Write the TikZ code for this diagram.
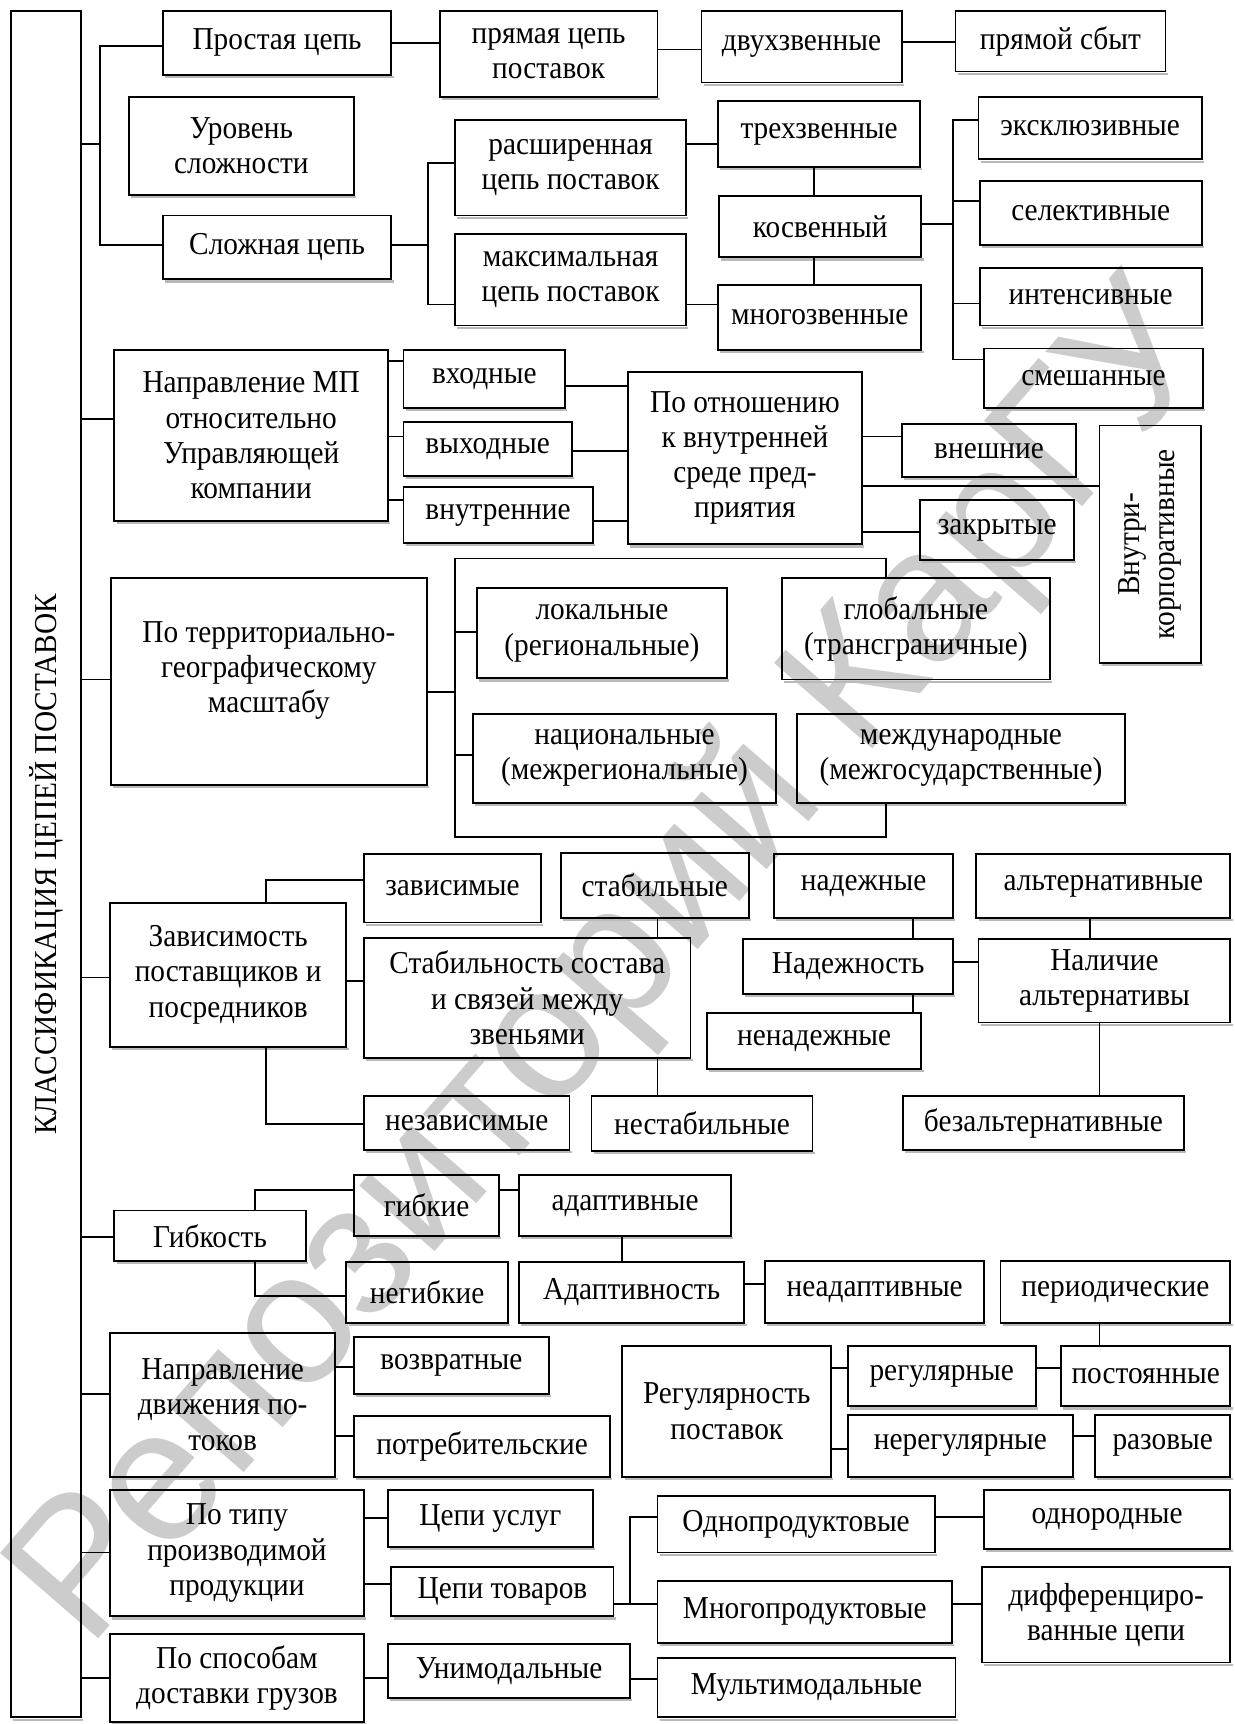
\documentclass[tikz,border=0pt]{standalone}
\usepackage{fontspec}
\setmainfont[FakeStretch=0.92]{Liberation Serif}
\newfontfamily\wmfamily{Liberation Sans}
\newcommand\dfs{\fontsize{14.5pt}{16pt}\selectfont}
\newcommand\wmfnt{\wmfamily\fontsize{86pt}{90pt}\selectfont}
\tikzset{
  bx/.style={draw, line width=0.85pt, inner sep=1pt, outer sep=0pt, align=center, font=\dfs},
  ln/.style={line width=0.85pt},
  shd/.style={line width=1pt, gray!55},
  txt/.style={align=center, font=\dfs, inner sep=0pt}
}
\newcommand\bx[6]{%
  \node[bx, minimum width={(#4-#2)*0.5pt}, minimum height={(#5-#3)*0.5pt}] (#1) at ({(#2+#4)/2},{(#3+#5)/2}) {#6};
  \draw[shd] ([shift={(2,2)}]#1.south west) -- ([shift={(2,2)}]#1.south east);
}
\begin{document}
\begin{tikzpicture}[x=0.5pt,y=-0.5pt]
\useasboundingbox[fill=white] (0,0) rectangle (1123,1568);
% watermark
\node[rotate=49, text=gray!40, font=\wmfnt, inner sep=0pt] (wm) at (560,880) {Репозиторий КарГУ};

% main box
\bx{main}{10}{10}{73.6}{1562}{}
\node[txt, rotate=90] (mainT) at (41.8,786) {КЛАССИФИКАЦИЯ ЦЕПЕЙ ПОСТАВОК};

% group 1
\bx{prost}{148}{10}{356}{68}{Простая цепь}
\bx{prjam}{400}{10}{598}{88}{прямая цепь\\поставок}
\bx{dvuh}{638}{10}{820}{75}{двухзвенные}
\bx{sbyt}{869}{10}{1060}{65}{прямой сбыт}
\bx{urov}{117}{88}{322}{177}{Уровень\\сложности}
\bx{rassh}{414}{109}{624}{196}{расширенная\\цепь поставок}
\bx{treh}{653}{92}{837}{152}{трехзвенные}
\bx{eksk}{890}{88}{1093}{145}{эксклюзивные}
\bx{selek}{891}{165}{1093}{223}{селективные}
\bx{kosv}{654}{178}{838}{234}{косвенный}
\bx{slozh}{148}{196}{356}{254}{Сложная цепь}
\bx{maks}{414}{213}{624}{296}{максимальная\\цепь поставок}
\bx{mnogo}{653}{259}{838}{318}{многозвенные}
\bx{inten}{891}{244}{1093}{296}{интенсивные}
\bx{smesh}{895}{317}{1094}{371}{смешанные}

% group 2
\bx{napr}{104}{318}{353}{474}{Направление МП\\относительно\\Управляющей\\компании}
\bx{vhod}{367}{318}{514}{371}{входные}
\bx{vyhod}{367}{384}{520}{433}{выходные}
\bx{vnutr}{367}{443}{539}{494}{внутренние}
\bx{otn}{571}{338}{784}{495}{По отношению\\к внутренней\\среде пред-\\приятия}
\bx{vnesh}{820}{386}{979}{434}{внешние}
\bx{zakr}{837}{455}{977}{509}{закрытые}
\bx{vnk}{1000}{387}{1092}{603}{}
\node[txt, rotate=90] (vnkT) at (vnk.center) {Внутри-\\корпоративные};

% group 3
\bx{terr}{101}{526}{388}{714}{}
\node[txt] (terrT) at (244.5,610) {По территориально-\\географическому\\масштабу};
\bx{lok}{434}{535}{661}{617}{локальные\\(региональные)}
\bx{glob}{711}{526}{955}{618}{глобальные\\(трансграничные)}
\bx{nac}{430}{649}{706}{730}{национальные\\(межрегиональные)}
\bx{mezh}{725}{649}{1023}{730}{международные\\(межгосударственные)}

% group 4
\bx{zavis}{100}{821}{315}{952}{Зависимость\\поставщиков и\\посредников}
\bx{zav}{331}{777}{492}{839}{зависимые}
\bx{stb}{510}{776}{681}{835}{стабильные}
\bx{nad}{704}{777}{867}{835}{надежные}
\bx{alt}{888}{777}{1119}{835}{альтернативные}
\bx{stab}{331}{853}{628}{962}{Стабильность состава\\и связей между\\звеньями}
\bx{nadezh}{676}{854}{867}{904}{Надежность}
\bx{nalich}{890}{854}{1119}{930}{Наличие\\альтернативы}
\bx{nenad}{643}{921}{838}{972}{ненадежные}
\bx{nezav}{331}{997}{518}{1046}{независимые}
\bx{nestab}{538}{997}{739}{1047}{нестабильные}
\bx{bezalt}{821}{997}{1077}{1046}{безальтернативные}

% group 5
\bx{gibk}{104}{1101}{278}{1147}{Гибкость}
\bx{gibkie}{322}{1069}{454}{1124}{гибкие}
\bx{adapt}{472}{1069}{665}{1124}{адаптивные}
\bx{negib}{315}{1148}{462}{1203}{негибкие}
\bx{adaptn}{472}{1148}{677}{1203}{Адаптивность}
\bx{neadapt}{696}{1147}{895}{1203}{неадаптивные}
\bx{period}{910}{1147}{1119}{1203}{периодические}

% group 6
\bx{naprD}{100}{1212}{305}{1343}{Направление\\движения по-\\токов}
\bx{vozvr}{322}{1216}{499}{1268}{возвратные}
\bx{potreb}{322}{1288}{555}{1343}{потребительские}
\bx{regul}{566}{1224}{756}{1343}{Регулярность\\поставок}
\bx{regular}{771}{1224}{942}{1279}{регулярные}
\bx{postoy}{965}{1224}{1119}{1279}{постоянные}
\bx{nereg}{771}{1287}{976}{1343}{нерегулярные}
\bx{razov}{996}{1287}{1119}{1343}{разовые}

% group 7
\bx{potipu}{100}{1355}{331}{1470}{По типу\\производимой\\продукции}
\bx{uslug}{353}{1355}{539}{1407}{Цепи услуг}
\bx{tovar}{356}{1425}{558}{1470}{Цепи товаров}
\bx{odnopr}{598}{1361}{850}{1412}{Однопродуктовые}
\bx{odnorod}{895}{1355}{1119}{1409}{однородные}
\bx{mnogopr}{598}{1438}{866}{1494}{Многопродуктовые}
\bx{diff}{893}{1425}{1119}{1512}{дифференциро-\\ванные цепи}

% group 8
\bx{sposob}{100}{1486}{331}{1566}{По способам\\доставки грузов}
\bx{unimod}{353}{1495}{573}{1544}{Унимодальные}
\bx{multi}{598}{1508}{869}{1562}{Мультимодальные}

% ---- connectors ----
\draw[ln] (main.east |- 0,131) -- (91,131);
\draw[ln] (prost.west |- 0,42) -- (91,42) -- (91,223) -- (slozh.west |- 0,223);
\draw[ln] (prost.east |- 0,39) -- (prjam.west |- 0,39);
\draw[ln] (prjam.east |- 0,45) -- (dvuh.west |- 0,45);
\draw[ln] (dvuh.east |- 0,38) -- (sbyt.west |- 0,38);
\draw[ln] (slozh.east |- 0,223) -- (389,223);
\draw[ln] (rassh.west |- 0,148) -- (389,148) -- (389,277) -- (maks.west |- 0,277);
\draw[ln] (rassh.east |- 0,131) -- (treh.west |- 0,131);
\draw[ln] (maks.east |- 0,277) -- (mnogo.west |- 0,277);
\draw[ln] (740,0 |- treh.south) -- (740,0 |- kosv.north);
\draw[ln] (740,0 |- kosv.south) -- (740,0 |- mnogo.north);
\draw[ln] (kosv.east |- 0,204) -- (867,204);
\draw[ln] (eksk.west |- 0,109) -- (867,109) -- (867,327) -- (smesh.west |- 0,327);
\draw[ln] (867,183) -- (selek.west |- 0,183);
\draw[ln] (867,276) -- (inten.west |- 0,276);

\draw[ln] (main.east |- 0,381) -- (napr.west |- 0,381);
\draw[ln] (napr.east |- 0,328) -- (vhod.west |- 0,328);
\draw[ln] (napr.east |- 0,397) -- (vyhod.west |- 0,397);
\draw[ln] (napr.east |- 0,455) -- (vnutr.west |- 0,455);
\draw[ln] (vhod.east |- 0,351) -- (otn.west |- 0,351);
\draw[ln] (vyhod.east |- 0,410) -- (otn.west |- 0,410);
\draw[ln] (vnutr.east |- 0,474) -- (otn.west |- 0,474);
\draw[ln] (otn.east |- 0,397) -- (vnesh.west |- 0,397);
\draw[ln] (otn.east |- 0,442) -- (vnk.west |- 0,442);
\draw[ln] (otn.east |- 0,484) -- (zakr.west |- 0,484);

\draw[ln] (main.east |- 0,618) -- (terr.west |- 0,618);
\draw[ln] (terr.east |- 0,629) -- (413.5,629);
\draw[ln] (806,0 |- glob.north) -- (806,508) -- (413.5,508) -- (413.5,761) -- (806,761) -- (806,0 |- mezh.south);
\draw[ln] (413.5,575) -- (lok.west |- 0,575);
\draw[ln] (413.5,687) -- (nac.west |- 0,687);

\draw[ln] (main.east |- 0,889) -- (zavis.west |- 0,889);
\draw[ln] (242,0 |- zavis.north) -- (242,800) -- (zav.west |- 0,800);
\draw[ln] (242,0 |- zavis.south) -- (242,1022) -- (nezav.west |- 0,1022);
\draw[ln] (zavis.east |- 0,892) -- (stab.west |- 0,892);
\draw[ln] (598,0 |- stb.south) -- (598,0 |- stab.north);
\draw[ln] (598,0 |- stab.south) -- (598,0 |- nestab.north);
\draw[ln] (830,0 |- nad.south) -- (830,0 |- nadezh.north);
\draw[ln] (830,0 |- nadezh.south) -- (830,0 |- nenad.north);
\draw[ln] (nadezh.east |- 0,875) -- (nalich.west |- 0,875);
\draw[ln] (991,0 |- alt.south) -- (991,0 |- nalich.north);
\draw[ln] (1000,0 |- nalich.south) -- (1000,0 |- bezalt.north);

\draw[ln] (main.east |- 0,1125) -- (gibk.west |- 0,1125);
\draw[ln] (232,0 |- gibk.north) -- (232,1082) -- (gibkie.west |- 0,1082);
\draw[ln] (232,0 |- gibk.south) -- (232,1179) -- (negib.west |- 0,1179);
\draw[ln] (gibkie.east |- 0,1082) -- (adapt.west |- 0,1082);
\draw[ln] (566,0 |- adapt.south) -- (566,0 |- adaptn.north);
\draw[ln] (adaptn.east |- 0,1168) -- (neadapt.west |- 0,1168);
\draw[ln] (1000,0 |- period.south) -- (1000,0 |- postoy.north);

\draw[ln] (main.east |- 0,1268) -- (naprD.west |- 0,1268);
\draw[ln] (naprD.east |- 0,1243) -- (vozvr.west |- 0,1243);
\draw[ln] (naprD.east |- 0,1306) -- (potreb.west |- 0,1306);
\draw[ln] (regul.east |- 0,1244) -- (regular.west |- 0,1244);
\draw[ln] (regul.east |- 0,1318) -- (nereg.west |- 0,1318);
\draw[ln] (regular.east |- 0,1244) -- (postoy.west |- 0,1244);
\draw[ln] (nereg.east |- 0,1306) -- (razov.west |- 0,1306);

\draw[ln] (main.east |- 0,1412) -- (potipu.west |- 0,1412);
\draw[ln] (potipu.east |- 0,1381) -- (uslug.west |- 0,1381);
\draw[ln] (potipu.east |- 0,1441) -- (tovar.west |- 0,1441);
\draw[ln] (tovar.east |- 0,1459) -- (573,1459);
\draw[ln] (odnopr.west |- 0,1380) -- (573,1380) -- (573,1459) -- (mnogopr.west |- 0,1459);
\draw[ln] (odnopr.east |- 0,1380) -- (odnorod.west |- 0,1380);
\draw[ln] (mnogopr.east |- 0,1459) -- (diff.west |- 0,1459);

\draw[ln] (main.east |- 0,1526) -- (sposob.west |- 0,1526);
\draw[ln] (sposob.east |- 0,1526) -- (unimod.west |- 0,1526);
\draw[ln] (unimod.east |- 0,1527) -- (multi.west |- 0,1527);
\end{tikzpicture}
\end{document}
